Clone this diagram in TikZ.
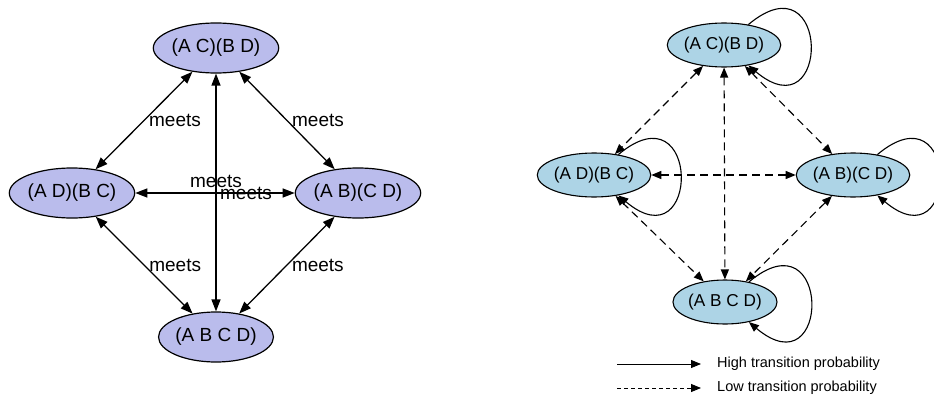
\documentclass[tikz,border=0pt]{standalone}
\usepackage{fontspec}
\setmainfont{Liberation Sans}
\usetikzlibrary{arrows.meta,shapes.geometric}

\definecolor{lavender}{RGB}{186,188,236}
\definecolor{paleblue}{RGB}{173,212,230}

\tikzset{
  lstate/.style={ellipse, draw, line width=1.2pt, fill=lavender, inner sep=0pt,
    minimum height=50pt, font=\fontsize{19}{22}\selectfont},
  rstate/.style={ellipse, draw, line width=1.1pt, fill=paleblue, inner sep=0pt,
    minimum height=44pt, font=\fontsize{17.2}{20}\selectfont},
  meets/.style={inner sep=4.5pt, font=\fontsize{19}{22}\selectfont},
  both/.style={line width=1.3pt, arrows={Triangle[length=12pt,width=9pt]-Triangle[length=12pt,width=9pt]}},
  high/.style={line width=1.1pt, arrows={-Triangle[length=10pt,width=8pt]}},
  low/.style={line width=1.1pt, dash pattern=on 8pt off 5pt,
    arrows={Triangle[length=10pt,width=8pt]-Triangle[length=10pt,width=8pt]}},
  legend/.style={anchor=west, inner sep=0pt, font=\fontsize{14.5}{17}\selectfont},
}

\begin{document}
\begin{tikzpicture}[x=1pt,y=1pt]
  \useasboundingbox (0,0) rectangle (934,-396);

  \node[lstate] (lAC) at (216,-48) {(A C)(B D)};
  \node[lstate] (lAD) at (72,-193) {(A D)(B C)};
  \node[lstate] (lAB) at (358,-193) {(A B)(C D)};
  \node[lstate] (lAll) at (216,-337) {(A B C D)};

  \foreach \a/\b in {lAC/lAD, lAC/lAB, lAD/lAll, lAB/lAll, lAD/lAB}
    \draw[both] (\a) -- node[meets, midway, anchor=west] (m\a\b) {meets} (\b);
  \draw[both] (lAC) -- node[meets, midway, anchor=south] (mlAClAll) {meets} (lAll);

  \node[rstate] (rAC) at (724,-45) {(A C)(B D)};
  \node[rstate] (rAD) at (594,-175) {(A D)(B C)};
  \node[rstate] (rAB) at (853,-175) {(A B)(C D)};
  \node[rstate] (rAll) at (725,-302) {(A B C D)};

  \foreach \a/\b in {rAC/rAD, rAC/rAB, rAC/rAll, rAD/rAB, rAD/rAll, rAB/rAll}
    \draw[low] (\a) -- (\b);
  \foreach \n in {rAC, rAD, rAB, rAll}
    \draw[high] (\n) to[out=40, in=-40, out distance=108pt, in distance=108pt] (\n);

  \coordinate (h0) at (617,-364);
  \coordinate (h1) at (701,-364);
  \coordinate (l0) at (617,-388);
  \coordinate (l1) at (701,-388);
  \draw[high, line width=0.9pt] (h0) -- (h1);
  \draw[high, line width=0.9pt, dash pattern=on 4pt off 3pt] (l0) -- (l1);
  \node[legend] (hightext) at (717,-364) {High transition probability};
  \node[legend] (lowtext) at (717,-388) {Low transition probability};
\end{tikzpicture}
\end{document}
